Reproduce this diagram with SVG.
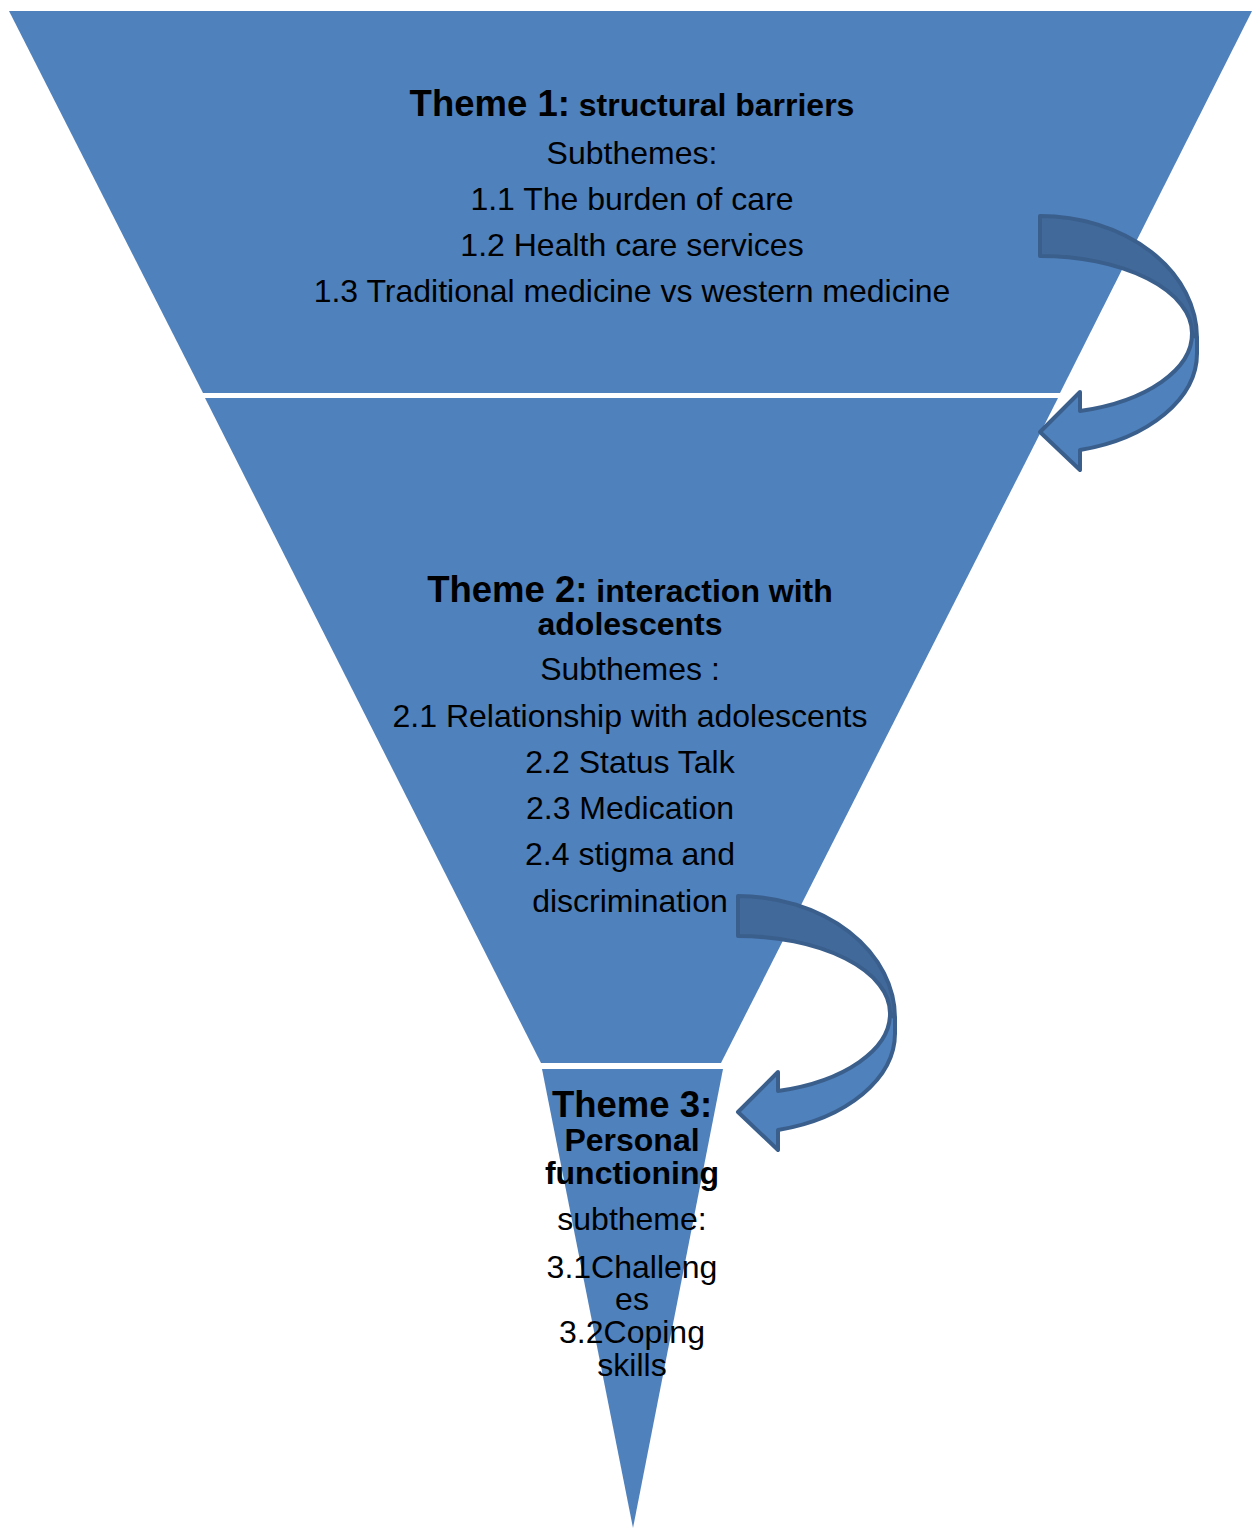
<svg xmlns="http://www.w3.org/2000/svg" width="1259" height="1528" viewBox="0 0 1259 1528">
<style>
.sec{fill:#4F81BD;stroke:none}
text{font-family:"Liberation Sans",Arial,sans-serif;fill:#000;text-anchor:middle}
.th{font-weight:bold;font-size:36.5px}
.hb{font-weight:bold;font-size:32px}
.rg{font-size:32px}
.back{fill:#41699A;stroke:#3A5F8C;stroke-width:4;stroke-linejoin:round}
.front{fill:#4F81BD;stroke:#3A5F8C;stroke-width:4;stroke-linejoin:round}
</style>
<defs>
<g id="curvedArrow">
<path class="back" d="M1040,216 A157,122 0 0 1 1197,338 L1197,353 L1192,333 A152,77 0 0 0 1040,256 Z"/>
<path class="front" d="M1192,333 A152,80 0 0 1 1080,411 L1080,392 L1040,432 L1080,470 L1080,450 A157,100 0 0 0 1197,353 L1197,338 Z"/>
</g>
</defs>
<rect width="1259" height="1528" fill="#fff"/>
<g id="theme1">
<polygon class="sec" points="9,11 1252,11 1060,393 203,393"/>
<text x="632" y="116"><tspan class="th">Theme 1:</tspan><tspan class="hb"> structural barriers</tspan></text>
<text class="rg" x="632" y="164">Subthemes:</text>
<text class="rg" x="632" y="210">1.1 The burden of care</text>
<text class="rg" x="632" y="256">1.2 Health care services</text>
<text class="rg" x="632" y="302">1.3 Traditional medicine vs western medicine</text>
</g>
<g id="theme2">
<polygon class="sec" points="205,398 1058,398 721,1063 541,1063"/>
<text x="630" y="602"><tspan class="th">Theme 2:</tspan><tspan class="hb"> interaction with</tspan></text>
<text class="hb" x="630" y="635">adolescents</text>
<text class="rg" x="630" y="680">Subthemes :</text>
<text class="rg" x="630" y="727">2.1 Relationship with adolescents</text>
<text class="rg" x="630" y="773">2.2 Status Talk</text>
<text class="rg" x="630" y="819">2.3 Medication</text>
<text class="rg" x="630" y="865">2.4 stigma and</text>
<text class="rg" x="630" y="912">discrimination</text>
</g>
<g id="theme3">
<polygon class="sec" points="542,1069 723,1069 633,1528"/>
<text class="th" x="632" y="1117">Theme 3:</text>
<text class="hb" x="632" y="1151">Personal</text>
<text class="hb" x="632" y="1184">functioning</text>
<text class="rg" x="632" y="1230">subtheme:</text>
<text class="rg" x="632" y="1278">3.1Challeng</text>
<text class="rg" x="632" y="1310">es</text>
<text class="rg" x="632" y="1343">3.2Coping</text>
<text class="rg" x="632" y="1376">skills</text>
</g>
<g id="connectors">
<use href="#curvedArrow"/>
<use href="#curvedArrow" transform="translate(-302,680)"/>
</g>
</svg>
